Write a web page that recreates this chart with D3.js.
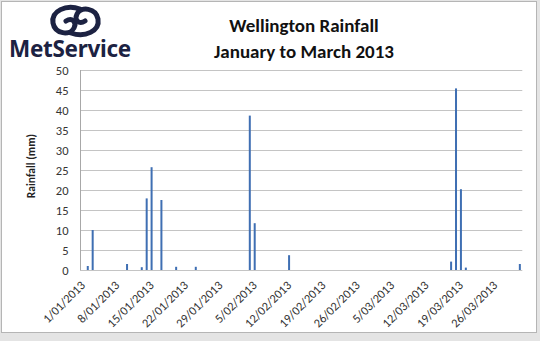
<!DOCTYPE html>
<html><head><meta charset="utf-8">
<script src="https://cdn.jsdelivr.net/npm/d3@7"></script>
<style>html,body{margin:0;padding:0;background:#fff;}svg{display:block;}</style>
</head><body>
<svg id="chart" width="540" height="341"></svg>
<script>
// Data
const rainDates = ["2013-01-02","2013-01-03","2013-01-10","2013-01-13","2013-01-14","2013-01-15","2013-01-17","2013-01-20","2013-01-24","2013-02-04","2013-02-05","2013-02-12","2013-03-17","2013-03-18","2013-03-19","2013-03-20","2013-03-31"];
const rainValues = [1.0,10.0,1.5,0.7,17.9,25.7,17.5,0.8,0.8,38.6,11.7,3.7,2.1,45.4,20.2,0.6,1.5];
const tickDates = ["2013-01-01","2013-01-08","2013-01-15","2013-01-22","2013-01-29","2013-02-05","2013-02-12","2013-02-19","2013-02-26","2013-03-05","2013-03-12","2013-03-19","2013-03-26"];
const tickLabels = ["1/01/2013","8/01/2013","15/01/2013","22/01/2013","29/01/2013","5/02/2013","12/02/2013","19/02/2013","26/02/2013","5/03/2013","12/03/2013","19/03/2013","26/03/2013"];
const yTicks = [0,5,10,15,20,25,30,35,40,45,50];

const svg = d3.select("#chart");
const font = "Carlito, Calibri, 'Liberation Sans', Arial, sans-serif";

// frame
svg.append("rect").attr("x",0).attr("y",0).attr("width",540).attr("height",341).attr("fill","#e4e4e4");
svg.append("rect").attr("x",1.5).attr("y",1.5).attr("width",535).attr("height",331).attr("fill","#fff").attr("stroke","#b5b5b5");

const parse = d3.utcParse("%Y-%m-%d");
const day = 86400000;
const x = d3.scaleUtc().domain([parse("2013-01-01"), parse("2013-04-01")]).range([80.4, 522.3]);
const y = d3.scaleLinear().domain([0,50]).range([270,70]);

// gridlines
svg.append("g").selectAll("line").data(yTicks).join("line")
  .attr("x1",80.4).attr("x2",522.3)
  .attr("y1",d=>Math.round(y(d))+0.5).attr("y2",d=>Math.round(y(d))+0.5)
  .attr("stroke","#c4c4c4").attr("stroke-width",1);
// y axis line
svg.append("line").attr("x1",80.5).attr("x2",80.5).attr("y1",70).attr("y2",270.5).attr("stroke","#a8a8a8");

// y tick labels
svg.append("g").selectAll("text").data(yTicks).join("text")
  .attr("x",68.5).attr("y",d=>y(d)+5)
  .attr("text-anchor","end").attr("font-family",font).attr("font-size",12.5)
  .attr("fill","#333").text(d=>d);

// y axis title
svg.append("text").attr("transform","translate(35,166) rotate(-90)")
  .attr("text-anchor","middle").attr("font-family",font).attr("font-size",11.5)
  .attr("font-weight","bold").attr("fill","#222").text("Rainfall (mm)");

// bars
const bw = 2;
svg.append("g").selectAll("rect").data(rainDates.map((d,i)=>({d:parse(d),v:rainValues[i]}))).join("rect")
  .attr("x",d=>x(new Date(+d.d+day/2))-bw/2)
  .attr("width",bw)
  .attr("y",d=>y(d.v))
  .attr("height",d=>y(0)-y(d.v))
  .attr("fill","#3f6fb3");

// x tick labels
svg.append("g").selectAll("text").data(tickDates.map((d,i)=>({d:parse(d),l:tickLabels[i]}))).join("text")
  .attr("transform",d=>`translate(${x(new Date(+d.d.getTime()+day/2))+3},286) rotate(-45)`)
  .attr("text-anchor","end").attr("font-family",font).attr("font-size",12.4)
  .attr("fill","#333").text(d=>d.l);

// title
svg.append("text").attr("x",304).attr("y",32).attr("text-anchor","middle")
  .attr("font-family",font).attr("font-size",19).attr("font-weight","bold").attr("fill","#111")
  .text("Wellington Rainfall");
svg.append("text").attr("x",304).attr("y",58).attr("text-anchor","middle")
  .attr("font-family",font).attr("font-size",19).attr("font-weight","bold").attr("fill","#111")
  .text("January to March 2013");

// logo
const navy = "#1c2242";
const logo = svg.append("g");
const swirl = "M80 9 C 66 4, 51 11, 53 23 C 55 34, 70 36, 74 28 C 77 22, 72 17, 66 21";
logo.append("path").attr("d",swirl).attr("fill","none").attr("stroke",navy).attr("stroke-width",5).attr("stroke-linecap","round");
logo.append("path").attr("d",swirl).attr("transform","rotate(180 75.5 21)").attr("fill","none").attr("stroke",navy).attr("stroke-width",5).attr("stroke-linecap","round");
logo.append("text").attr("x",9).attr("y",56.5).attr("font-family","'Noto Sans', 'Open Sans', sans-serif")
  .attr("font-size",22.5).attr("font-weight","bold").attr("fill",navy).attr("letter-spacing",-0.3).text("MetService");
</script>
</body></html>
